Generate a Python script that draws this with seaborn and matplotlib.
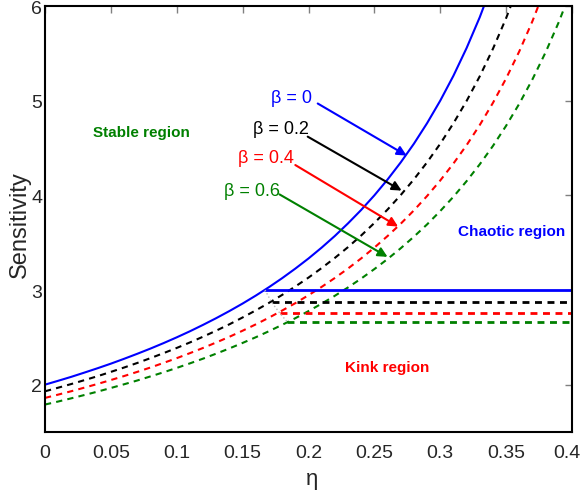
import numpy as np
import pandas as pd
import matplotlib
matplotlib.use("Agg")
import matplotlib.pyplot as plt
import matplotlib.transforms as mtransforms
import seaborn as sns

# ---- data ----
eta = [0.00, 0.01, 0.02, 0.03, 0.04, 0.05, 0.06, 0.07, 0.08, 0.09, 0.10,
       0.11, 0.12, 0.13, 0.14, 0.15, 0.16, 0.17, 0.18, 0.19, 0.20,
       0.21, 0.22, 0.23, 0.24, 0.25, 0.26, 0.27, 0.28, 0.29, 0.30,
       0.31, 0.32, 0.33, 0.34, 0.35, 0.36, 0.37, 0.38, 0.39, 0.40]
s_b00 = [2.000, 2.041, 2.083, 2.128, 2.174, 2.222, 2.273, 2.326, 2.381, 2.439, 2.500,
         2.564, 2.632, 2.703, 2.778, 2.857, 2.941, 3.030, 3.125, 3.226, 3.333,
         3.448, 3.571, 3.704, 3.846, 4.000, 4.167, 4.348, 4.545, 4.762, 5.000,
         5.263, 5.556, 5.882, 6.250, 6.667, None, None, None, None, None]
s_b02 = [1.930, 1.968, 2.007, 2.048, 2.090, 2.135, 2.181, 2.229, 2.280, 2.333, 2.388,
         2.446, 2.507, 2.571, 2.638, 2.710, 2.785, 2.864, 2.948, 3.037, 3.131,
         3.232, 3.339, 3.453, 3.576, 3.708, 3.850, 4.003, 4.169, 4.349, 4.545,
         4.761, 4.997, 5.258, 5.548, 5.872, 6.235, 6.647, None, None, None]
s_b04 = [1.860, 1.895, 1.931, 1.969, 2.008, 2.049, 2.091, 2.135, 2.181, 2.230, 2.280,
         2.333, 2.388, 2.446, 2.506, 2.570, 2.637, 2.708, 2.783, 2.861, 2.945,
         3.033, 3.127, 3.227, 3.334, 3.448, 3.570, 3.700, 3.841, 3.993, 4.157,
         4.336, 4.530, 4.743, 4.977, 5.235, 5.521, 5.841, 6.199, 6.605, None]
s_b06 = [1.790, 1.822, 1.856, 1.891, 1.927, 1.965, 2.004, 2.044, 2.087, 2.131, 2.177,
         2.225, 2.275, 2.328, 2.383, 2.441, 2.501, 2.565, 2.632, 2.702, 2.777,
         2.856, 2.939, 3.027, 3.121, 3.221, 3.327, 3.441, 3.563, 3.693, 3.834,
         3.985, 4.150, 4.328, 4.522, 4.735, 4.968, 5.226, 5.512, 5.831, 6.190]

beta_labels = ["β = 0", "β = 0.2", "β = 0.4", "β = 0.6"]
kink_eta = [0.167, 0.172, 0.178, 0.184]
kink_level = [3.00, 2.87, 2.76, 2.66]
eta_max = 0.4

x_ticks = [0, 0.05, 0.1, 0.15, 0.2, 0.25, 0.3, 0.35, 0.4]
x_tick_labels = ["0", "0.05", "0.1", "0.15", "0.2", "0.25", "0.3", "0.35", "0.4"]
y_ticks = [2, 3, 4, 5, 6]

colors = ["#0000ff", "#000000", "#ff0000", "#008000"]
dashed = [False, True, True, True]

# label / arrow positions (data coords)
label_xy = [(0.187, 5.03), (0.179, 4.71), (0.168, 4.40), (0.157, 4.05)]
arrow_start = [(0.207, 4.97), (0.1994, 4.62), (0.190, 4.32), (0.178, 4.01)]
arrow_end = [(0.2745, 4.42), (0.2707, 4.05), (0.268, 3.67), (0.260, 3.35)]

sns.set_style("white")
FAM = ["Liberation Sans Narrow", "Liberation Sans", "DejaVu Sans"]
plt.rcParams["font.family"] = FAM

fig = plt.figure(figsize=(5.81, 5.02), dpi=100)
ax = fig.add_axes([45 / 581, 69 / 502, 527 / 581, 426 / 502])

series = [s_b00, s_b02, s_b04, s_b06]
for vals, c, d in zip(series, colors, dashed):
    df = pd.DataFrame({"eta": eta, "S": vals}).dropna()
    kw = dict(dashes=(3, 2.5)) if d else {}
    sns.lineplot(data=df, x="eta", y="S", ax=ax, color=c,
                 linewidth=1.5, legend=False, **kw)

# horizontal kink plateaus
for k0, lvl, c, d in zip(kink_eta, kink_level, colors, dashed):
    df = pd.DataFrame({"eta": [k0, eta_max], "S": [lvl, lvl]})
    kw = dict(dashes=(2.5, 2)) if d else {}
    sns.lineplot(data=df, x="eta", y="S", ax=ax, color=c,
                 linewidth=2.0, legend=False, **kw)

# faint dotted link through kink points
dfk = pd.DataFrame({"eta": kink_eta, "S": kink_level})
sns.lineplot(data=dfk, x="eta", y="S", ax=ax, color="#b8b8b8", linestyle=":",
             linewidth=1.0, legend=False)

# beta annotations
for lab, c, lxy, a0, a1 in zip(beta_labels, colors, label_xy, arrow_start, arrow_end):
    ax.text(lxy[0], lxy[1], lab, color=c, fontsize=13, ha="center", va="center",
            family=FAM)
    ax.annotate("", xy=a1, xytext=a0,
                arrowprops=dict(arrowstyle="-|>", color=c, lw=1.5,
                                mutation_scale=14, shrinkA=0, shrinkB=0))

# region labels
ax.text(0.073, 4.67, "Stable region", color="#008000", fontsize=11,
        fontweight="bold", ha="center", va="center", family=FAM)
ax.text(0.3545, 3.62, "Chaotic region", color="#0000ff", fontsize=11,
        fontweight="bold", ha="center", va="center", family=FAM)
ax.text(0.260, 2.19, "Kink region", color="#ff0000", fontsize=11,
        fontweight="bold", ha="center", va="center", family=FAM)

ax.set_xlim(0, 0.4)
ax.set_ylim(1.5, 6)
ax.set_xticks(x_ticks)
ax.set_xticklabels(x_tick_labels)
ax.set_yticks(y_ticks)
ax.tick_params(direction="in", length=5, width=1, color="#808080",
               top=True, right=True, labelsize=14)
ax.tick_params(axis="x", pad=9)
ax.tick_params(axis="y", pad=2)
for lab in ax.get_xticklabels() + ax.get_yticklabels():
    lab.set_family(FAM)
# keep the last x tick label inside the canvas
last = ax.get_xticklabels()[-1]
last.set_transform(last.get_transform() +
                   mtransforms.ScaledTranslation(-4 / 72, 0, fig.dpi_scale_trans))
for sp in ax.spines.values():
    sp.set_visible(True)
    sp.set_color("black")
    sp.set_linewidth(1.5)

ax.set_xlabel("η", fontsize=16, family=FAM, va="center")
ax.xaxis.set_label_coords(0.507, -0.108)
ax.set_ylabel("Sensitivity", fontsize=17, family=FAM, va="center")
ax.yaxis.set_label_coords(-0.047, 0.49)

fig.savefig("out.png", dpi=100)
